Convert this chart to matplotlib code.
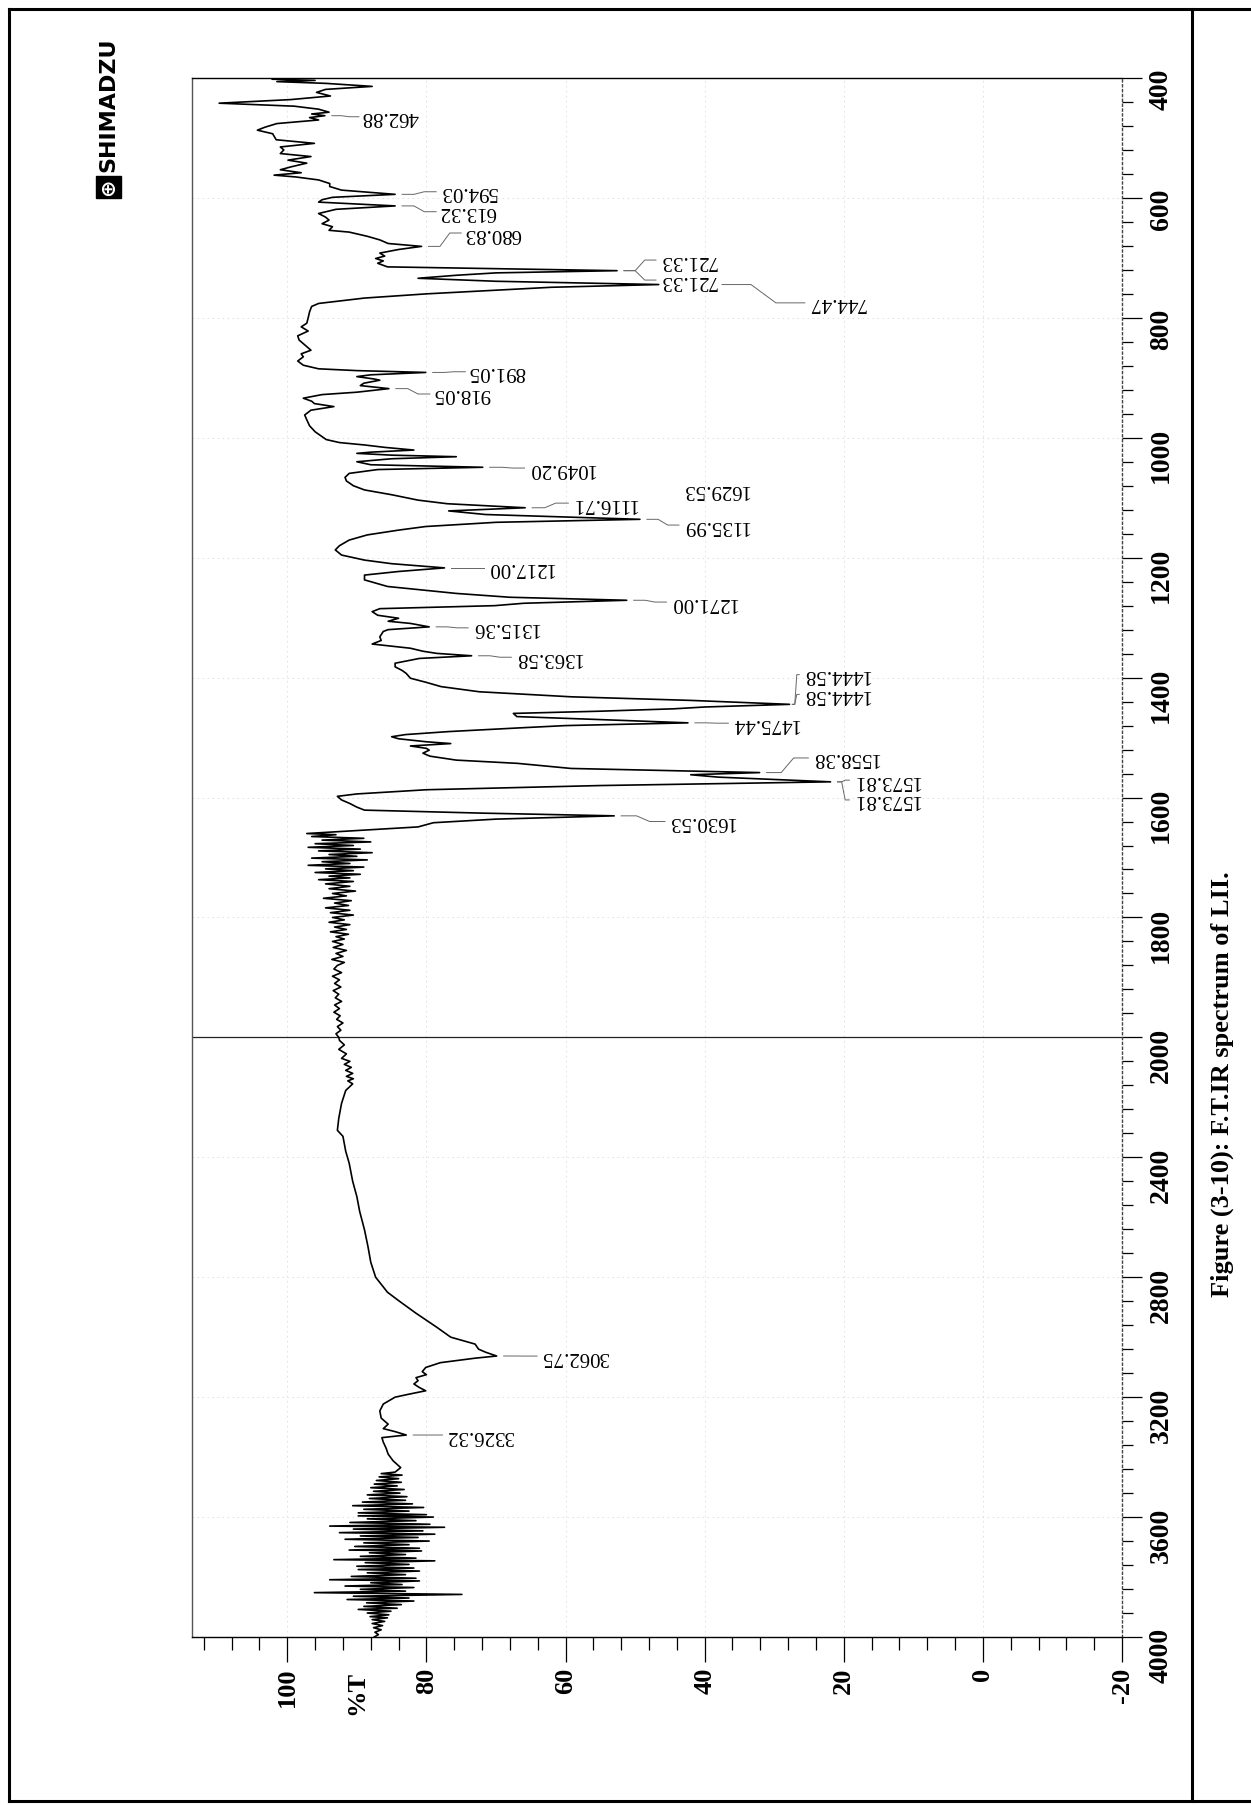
import numpy as np
import matplotlib
matplotlib.use('Agg')
import matplotlib.pyplot as plt
from matplotlib.lines import Line2D

# ---- spectrum: wavenumber (cm-1) and transmittance (%T) ----
# fingerprint region 400-1003
fp_wn = [400, 402, 404, 406, 409, 414, 419, 424, 430, 436, 442, 447, 452, 457, 460,
         462.88, 466, 470, 476, 482, 487, 493, 503, 509, 515, 520, 526, 531, 537, 542,
         548, 553, 558, 562, 565, 570, 576, 581, 587, 594.03, 599, 603, 607, 613.32, 619,
         626, 632, 637, 643, 648, 654, 657, 664, 670, 676, 680.83, 686, 692, 697, 701,
         705, 709, 715, 718, 721.33, 725, 729, 734, 739, 744.47, 749, 754, 760, 767, 776,
         781, 790, 800, 809, 815, 822, 830, 837, 845, 854, 860, 865, 872, 879, 885,
         888, 891.05, 895, 898, 902, 904, 909, 913, 918.05, 924, 928, 934, 939, 943, 948,
         954, 962, 970, 980, 990, 1003]
fp_t = [100.5, 102.2, 96.0, 101.5, 94.4, 87.8, 94.5, 95.8, 93.8, 99.5, 109.8, 99.0, 95.5, 94.0, 96.5,
        94.6, 96.8, 95.5, 101.5, 103.2, 104.3, 102.1, 101.6, 96.1, 101.0, 100.5, 101.0, 96.6, 99.9, 97.2,
        99.4, 101.0, 98.0, 101.9, 98.8, 95.5, 93.9, 93.9, 92.2, 84.5, 93.5, 95.0, 95.5, 84.5, 93.0,
        95.5, 94.5, 94.0, 95.0, 93.5, 94.0, 91.1, 88.5, 86.7, 85.5, 80.7, 84.0, 86.7, 86.0, 87.3,
        86.2, 87.0, 85.6, 70.0, 52.6, 70.0, 75.7, 81.2, 70.0, 46.6, 62.0, 70.2, 80.0, 88.9, 95.5,
        96.5, 96.8, 97.0, 97.2, 98.0, 97.0, 98.5, 98.3, 97.5, 96.6, 98.0, 97.7, 98.5, 97.7, 95.5,
        90.0, 80.1, 88.0, 90.0, 87.5, 86.7, 89.0, 89.5, 85.4, 90.0, 95.0, 97.7, 96.5, 96.1, 93.3,
        96.6, 97.5, 97.2, 96.8, 96.0, 94.4]

# mid region 1008-1660
mid_wn = [1008, 1012, 1016, 1020.5, 1024, 1026, 1029, 1031.6, 1035, 1040, 1045, 1049.20, 1053,
          1059.4, 1066, 1072, 1080, 1087, 1095, 1104, 1110, 1116.71, 1122, 1128, 1135.99, 1141,
          1148, 1154, 1162, 1170.6, 1180, 1187, 1195.6, 1204, 1210, 1217.00, 1223, 1229, 1237,
          1248, 1259.6, 1266, 1271.00, 1276, 1280, 1285, 1290, 1296, 1301, 1306, 1309.6, 1315.36,
          1320, 1323, 1332, 1338, 1344, 1351, 1356, 1359.6, 1363.58, 1368, 1376, 1382, 1388, 1393,
          1401, 1408, 1415, 1423.6, 1432, 1438, 1444.58, 1449, 1452, 1456, 1459.7, 1465, 1470,
          1475.44, 1480, 1484, 1490, 1495, 1498.6, 1502, 1507, 1510, 1514, 1518, 1521, 1526, 1531,
          1537.6, 1543, 1551.5, 1558.38, 1562, 1566, 1573.81, 1580, 1587, 1594, 1598, 1604, 1610,
          1616, 1621, 1626, 1630.53, 1636, 1642, 1649, 1655, 1660]
mid_t = [92.5, 88.9, 86.0, 81.8, 88.0, 90.0, 85.0, 75.7, 85.0, 90.0, 88.0, 71.9, 87.0,
         91.1, 91.7, 91.5, 90.5, 88.9, 85.0, 81.2, 77.0, 65.8, 76.8, 71.5, 49.3, 70.0,
         80.1, 84.0, 88.5, 91.1, 92.5, 93.1, 92.2, 88.9, 85.0, 77.4, 84.0, 88.9, 88.9,
         85.6, 75.7, 68.0, 51.2, 66.0, 70.2, 86.7, 87.8, 87.0, 84.0, 85.5, 82.3, 79.6,
         85.5, 86.2, 86.7, 86.5, 87.8, 82.3, 80.5, 78.5, 73.5, 81.0, 84.5, 84.5, 83.5, 82.9,
         82.3, 80.0, 77.9, 72.4, 59.2, 42.0, 27.8, 40.0, 44.4, 55.0, 67.5, 67.0, 55.0,
         42.4, 60.0, 66.9, 76.8, 83.0, 85.0, 84.0, 80.0, 76.5, 82.3, 80.0, 79.6, 80.5, 79.5,
         75.7, 66.9, 59.2, 32.1, 42.0, 38.0, 21.9, 55.0, 80.0, 90.0, 92.8, 92.2, 91.0,
         90.0, 88.9, 72.0, 53.0, 70.0, 79.0, 81.2, 90.0, 97.2]

# noisy stretch 1662-2000
n1_wn = [1662, 1665, 1668, 1671, 1674, 1677, 1680, 1683, 1686, 1689, 1692, 1695, 1698, 1701,
         1704, 1707, 1710, 1713, 1716, 1719, 1722, 1725, 1728, 1731, 1734, 1737, 1740, 1744,
         1748, 1752, 1756, 1760, 1764, 1768, 1772, 1776, 1780, 1784, 1788, 1792, 1796, 1800,
         1804, 1808, 1812, 1816, 1820, 1824, 1828, 1832, 1836, 1840, 1845, 1850, 1855, 1860,
         1865, 1870, 1875, 1880, 1886, 1892, 1898, 1904, 1910, 1916, 1922, 1928, 1934, 1940,
         1946, 1952, 1958, 1964, 1970, 1976, 1982, 1988, 1994, 2000]
n1_t = [93.0, 96.5, 89.0, 95.0, 88.0, 96.0, 90.5, 97.0, 89.5, 95.5, 87.8, 94.0, 90.0, 96.5,
        88.5, 95.0, 91.0, 97.0, 89.0, 94.5, 90.5, 96.0, 89.5, 94.0, 91.0, 95.5, 90.5, 94.5,
        91.0, 94.0, 90.2, 93.5, 91.5, 94.8, 90.8, 93.2, 91.2, 94.5, 91.0, 93.8, 90.5, 93.5,
        91.8, 94.0, 91.0, 93.2, 91.5, 93.8, 91.2, 93.0, 91.8, 93.5, 92.0, 93.4, 91.5, 93.0,
        92.0, 93.6, 91.8, 92.8, 93.3, 92.2, 93.5, 92.5, 93.2, 92.3, 93.4, 92.6, 93.1, 92.2,
        93.2, 92.5, 93.3, 92.4, 92.9, 92.0, 92.8, 92.3, 93.0, 92.6]

# 2010-3450, C-H band region
ch_wn = [2010, 2025, 2040, 2055, 2070, 2080, 2090, 2100, 2110, 2120, 2130, 2138, 2145, 2155,
         2177, 2220, 2270, 2310, 2330, 2380, 2420, 2480, 2531, 2580, 2642, 2698, 2750, 2800,
         2850, 2878, 2920, 2967, 3000, 3023, 3040, 3050, 3062.75, 3070, 3085, 3101, 3115, 3125,
         3135, 3145, 3156, 3168, 3178.7, 3190, 3200, 3223, 3246, 3270, 3290, 3305, 3315,
         3326.32, 3335, 3350, 3370, 3390, 3412, 3435, 3450]
ch_t = [92.5, 91.8, 92.6, 91.5, 92.2, 91.0, 91.8, 90.8, 91.6, 90.6, 91.5, 90.5, 91.3, 90.6,
        91.6, 92.2, 92.6, 92.8, 92.0, 91.6, 91.1, 90.6, 90.0, 89.6, 88.9, 88.4, 88.0, 87.3,
        85.6, 84.0, 81.5, 78.5, 76.5, 73.0, 72.5, 71.5, 69.9, 73.0, 78.0, 80.1, 80.6, 80.0,
        81.5, 81.2, 81.8, 81.0, 80.1, 82.5, 84.5, 86.2, 86.7, 86.5, 85.5, 86.2, 84.5,
        82.9, 86.4, 86.2, 85.8, 85.5, 84.8, 83.7, 84.5]

# noisy stretch 3455-4000
n2_wn = [3455, 3460, 3466, 3472, 3478, 3484, 3490, 3496, 3502, 3508, 3514, 3520, 3526, 3532,
         3538, 3544, 3550, 3556, 3562, 3568, 3574, 3580, 3586, 3592, 3596, 3600, 3606, 3612,
         3618, 3624, 3630, 3634, 3640, 3646, 3652, 3657, 3663, 3668, 3674, 3680, 3686, 3692,
         3698, 3704, 3710, 3713, 3719, 3725, 3731, 3737, 3742, 3746, 3752, 3758, 3764, 3770,
         3775, 3780, 3786, 3792, 3798, 3804, 3809, 3813, 3819, 3825, 3830, 3835, 3841, 3847,
         3852, 3858, 3864, 3870, 3875, 3880, 3886, 3892, 3898, 3904, 3908, 3914, 3920, 3926,
         3932, 3936, 3942, 3948, 3955, 3962, 3969, 3976, 3984, 3992, 4000]
n2_t = [86.5, 83.5, 86.8, 84.0, 87.2, 83.6, 87.5, 84.2, 88.0, 83.2, 87.6, 83.8, 88.5, 82.8,
        88.2, 83.0, 89.2, 82.0, 90.6, 80.4, 89.0, 82.5, 89.8, 80.0, 89.8, 79.0, 88.5, 81.5,
        91.0, 79.5, 93.9, 77.4, 90.5, 80.5, 92.5, 78.8, 89.5, 81.2, 91.7, 79.6, 89.0, 82.5,
        90.3, 81.0, 91.1, 80.7, 88.2, 83.0, 89.5, 81.5, 93.3, 78.8, 88.8, 82.5, 90.0, 81.8,
        89.8, 81.0, 88.5, 83.0, 90.8, 81.5, 93.9, 81.0, 88.0, 83.5, 91.7, 81.8, 89.5, 83.0,
        96.1, 74.9, 90.5, 82.5, 91.4, 81.8, 88.6, 83.6, 89.0, 84.2, 89.8, 85.1, 88.5, 85.4,
        88.1, 85.6, 87.8, 86.0, 87.8, 86.3, 87.6, 86.5, 87.4, 86.9, 87.5]

wn = np.concatenate([fp_wn, mid_wn, n1_wn, ch_wn, n2_wn])
trans = np.concatenate([fp_t, mid_t, n1_t, ch_t, n2_t])

# peak labels: value, label left edge (%T), label centre (cm-1)
peak_vals = [462.88, 594.03, 613.32, 680.83, 721.33, 721.33, 744.47, 891.05, 918.05,
             1049.20, 1116.71, 1135.99, 1217.00, 1271.00, 1315.36, 1363.58, 1444.58,
             1444.58, 1475.44, 1558.38, 1573.81, 1573.81, 1630.53, 3062.75, 3326.32]
lab_x = [89.3, 78.2, 78.2, 74.6, 46.6, 46.6, 25.2, 74.0, 79.1,
         65.5, 59.2, 43.3, 71.3, 45.1, 73.6, 67.4, 26.0,
         26.0, 36.2, 24.7, 18.8, 18.8, 45.3, 63.7, 77.3]
lab_y = [464.6, 589.7, 623.0, 658.5, 703.6, 737.0, 775.0, 889.9, 927.0,
         1050.5, 1109.0, 1145.6, 1217.0, 1274.0, 1317.0, 1366.0, 1395.0,
         1428.0, 1476.0, 1534.0, 1571.0, 1604.0, 1640.0, 3063.0, 3326.3]
lead_start = {6: 37.5, 16: 27.4, 17: 27.4}

stray_label = ('1629.53', 43.3, 1087.0)

pct_ticks = [100, 80, 60, 40, 20, 0, -20]
wn_ticks = [400, 600, 800, 1000, 1200, 1400, 1600, 1800, 2000, 2400, 2800, 3200, 3600, 4000]

W, H = 1251, 1805


def fwd(w):
    w = np.asarray(w, dtype=float)
    return np.where(w <= 2000, (w - 400) / 200.0, 8 + (w - 2000) / 400.0)


def inv(p):
    p = np.asarray(p, dtype=float)
    return np.where(p <= 8, 400 + p * 200.0, 2000 + (p - 8) * 400.0)


fig = plt.figure(figsize=(W / 100, H / 100), dpi=100)
ax = fig.add_axes([192 / W, 1 - 1637 / H, (1122 - 192) / W, (1637 - 78) / H])

ax.set_yscale('function', functions=(fwd, inv))
ax.set_ylim(4000, 400)
ax.set_xlim(113.7, -20)

ax.grid(True, which='major', color='#dddddd', lw=0.6, ls=(0, (2, 4)))
ax.set_axisbelow(True)
ax.axhline(2000, color='#222222', lw=0.9)

ax.plot(trans, wn, color='black', lw=1.2)

# axes frame
for side in ['top', 'bottom']:
    ax.spines[side].set_color('black')
    ax.spines[side].set_linewidth(1.0)
ax.spines['left'].set_color('#555555')
ax.spines['left'].set_linewidth(1.0)
ax.spines['right'].set_color('#444444')
ax.spines['right'].set_linestyle((0, (1.5, 2)))
ax.spines['right'].set_linewidth(1.0)

serif = 'Liberation Serif'
ax.xaxis.set_ticks_position('bottom')
ax.yaxis.set_ticks_position('right')
ax.set_xticks(pct_ticks, labels=[str(v) for v in pct_ticks],
              fontfamily=serif, fontweight='bold', fontsize=19)
ax.set_xticks(np.arange(112, -21, -4), minor=True)
ax.set_yticks(wn_ticks, labels=[str(v) for v in wn_ticks],
              fontfamily=serif, fontweight='bold', fontsize=20)
ax.set_yticks(list(np.arange(440, 2000, 40)) + list(np.arange(2080, 4000, 80)), minor=True)
ax.tick_params(axis='x', which='major', direction='out', length=18, width=0.9, pad=4,
               labelrotation=90)
ax.tick_params(axis='x', which='minor', direction='out', length=9.5, width=0.9)
ax.tick_params(axis='y', which='major', direction='out', length=14.5, width=0.9, pad=5,
               labelrotation=90)
ax.tick_params(axis='y', which='minor', direction='out', length=8, width=0.9)

ax.text(90, -0.0215, '%T', transform=ax.get_xaxis_transform(), rotation=90,
        ha='center', va='top', fontfamily=serif, fontweight='bold', fontsize=19)

# peak labels with leader lines
for i, (pk, lx, ly) in enumerate(zip(peak_vals, lab_x, lab_y)):
    tip = np.interp(pk, wn, trans)
    x0 = lead_start.get(i, tip - 1.0)
    x1 = lx + 0.4
    xs = [x0, x0 + (x1 - x0) * 0.35, x0 + (x1 - x0) * 0.65, x1]
    ys = [pk, pk, ly, ly]
    ax.plot(xs, ys, color='#666666', lw=0.7)
    ax.text(lx, ly, f'{pk:.2f}', rotation=180, rotation_mode='anchor', ha='right',
            va='center', fontfamily=serif, fontsize=15)

ax.text(stray_label[1], stray_label[2], stray_label[0], rotation=180, rotation_mode='anchor',
        ha='right', va='center', fontfamily=serif, fontsize=15)

# page frame and caption
def px(x):
    return x / W


def py(y):
    return 1 - y / H


for xs, ys in [((9, W), (9, 9)), ((9, 9), (9, 1801)), ((9, W), (1801, 1801)),
               ((1192, 1192), (9, 1801))]:
    fig.add_artist(Line2D([px(v) for v in xs], [py(v) for v in ys],
                          transform=fig.transFigure, color='black', lw=2.2))

fig.text(px(1222), py(1084), 'Figure (3-10): F.T.IR spectrum of LII.', rotation=90,
         ha='center', va='center', fontfamily=serif, fontweight='bold', fontsize=19)

fig.text(px(108), py(187), '\u2295', rotation=90, ha='center', va='center', color='white',
         fontsize=15, fontweight='bold',
         bbox=dict(boxstyle='square,pad=0.12', fc='black', ec='black'))
fig.text(px(108), py(172), 'SHIMADZU', rotation=90, rotation_mode='anchor', ha='left',
         va='center', fontfamily='DejaVu Sans', fontweight='heavy', fontsize=16)

fig.savefig('out.png', dpi=100)
